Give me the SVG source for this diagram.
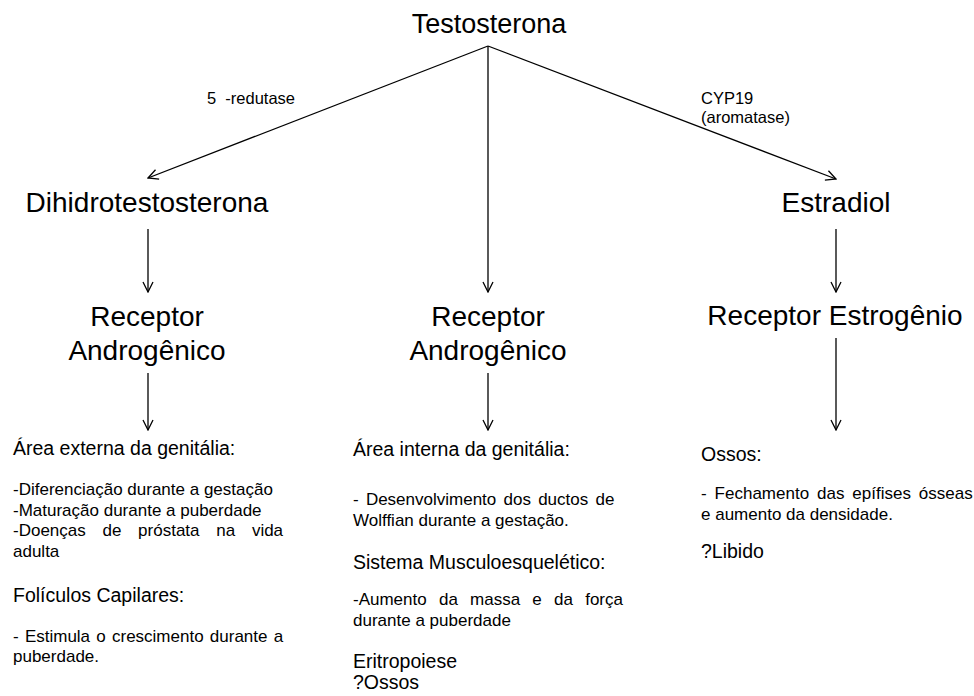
<svg xmlns="http://www.w3.org/2000/svg" width="974" height="696" viewBox="0 0 974 696">
<style>
text { font-family: "Liberation Sans", Arial, sans-serif; fill: #000; }
.big { font-size: 28px; }
.mid { text-anchor: middle; }
.lbl { font-size: 16.5px; }
.head { font-size: 19.5px; }
.body { font-size: 17px; }
.conn line { stroke: #000; stroke-width: 1.3; fill: none; marker-end: url(#arr); }
</style>
<defs>
<marker id="arr" viewBox="0 0 12 12" refX="11" refY="6" markerWidth="12" markerHeight="12" markerUnits="userSpaceOnUse" orient="auto">
<path d="M1,1 L11,6 L1,11" fill="none" stroke="#000" stroke-width="1.3"/>
</marker>
</defs>
<rect width="974" height="696" fill="#fff"/>

<g id="connectors" class="conn">
<line x1="488" y1="46" x2="148" y2="178"/>
<line x1="488" y1="46" x2="836" y2="179"/>
<line x1="488" y1="46" x2="488" y2="292"/>
<line x1="148" y1="229" x2="148" y2="292"/>
<line x1="836" y1="229" x2="836" y2="292"/>
<line x1="148" y1="373" x2="148" y2="430"/>
<line x1="488" y1="373" x2="488" y2="430"/>
<line x1="836" y1="338" x2="836" y2="430"/>
</g>

<g id="labels">
<text class="lbl" x="207" y="104" xml:space="preserve">5  -redutase</text>
<text class="lbl" x="701" y="104">CYP19</text>
<text class="lbl" x="701" y="123">(aromatase)</text>
</g>

<g id="testosterona"><text class="mid" x="489" y="33" style="font-size:27px">Testosterona</text></g>
<g id="dihidrotestosterona"><text class="big mid" x="147" y="212">Dihidrotestosterona</text></g>
<g id="estradiol"><text class="big mid" x="836" y="212">Estradiol</text></g>

<g id="receptor-androgenico-1">
<text class="big mid" x="147" y="326">Receptor</text>
<text class="big mid" x="147" y="360">Androgênico</text>
</g>
<g id="receptor-androgenico-2">
<text class="big mid" x="488" y="326">Receptor</text>
<text class="big mid" x="488" y="360">Androgênico</text>
</g>
<g id="receptor-estrogenio">
<text class="big mid" x="835" y="325">Receptor Estrogênio</text>
</g>

<g id="efeitos-externa">
<text class="head" x="13" y="455">Área externa da genitália:</text>
<text class="body" x="13" y="495">-Diferenciação durante a gestação</text>
<text class="body" x="13" y="516">-Maturação durante a puberdade</text>
<text class="body" x="13" y="536" style="word-spacing:12px">-Doenças de próstata na vida</text>
<text class="body" x="13" y="557">adulta</text>
<text class="head" x="13" y="602">Folículos Capilares:</text>
<text class="body" x="13" y="642" style="word-spacing:1.5px">- Estimula o crescimento durante a</text>
<text class="body" x="13" y="662">puberdade.</text>
</g>

<g id="efeitos-interna">
<text class="head" x="353" y="456">Área interna da genitália:</text>
<text class="body" x="353" y="505" style="word-spacing:2.5px">- Desenvolvimento dos ductos de</text>
<text class="body" x="353" y="526">Wolffian durante a gestação.</text>
<text class="head" x="353" y="569">Sistema Musculoesquelético:</text>
<text class="body" x="353" y="605" style="word-spacing:7.5px">-Aumento da massa e da força</text>
<text class="body" x="353" y="626">durante a puberdade</text>
<text class="head" x="353" y="668">Eritropoiese</text>
<text class="head" x="353" y="689">?Ossos</text>
</g>

<g id="efeitos-estrogenio">
<text class="head" x="701" y="461">Ossos:</text>
<text class="body" x="701" y="499" style="word-spacing:3.2px">- Fechamento das epífises ósseas</text>
<text class="body" x="701" y="520">e aumento da densidade.</text>
<text class="head" x="701" y="558">?Libido</text>
</g>
</svg>
